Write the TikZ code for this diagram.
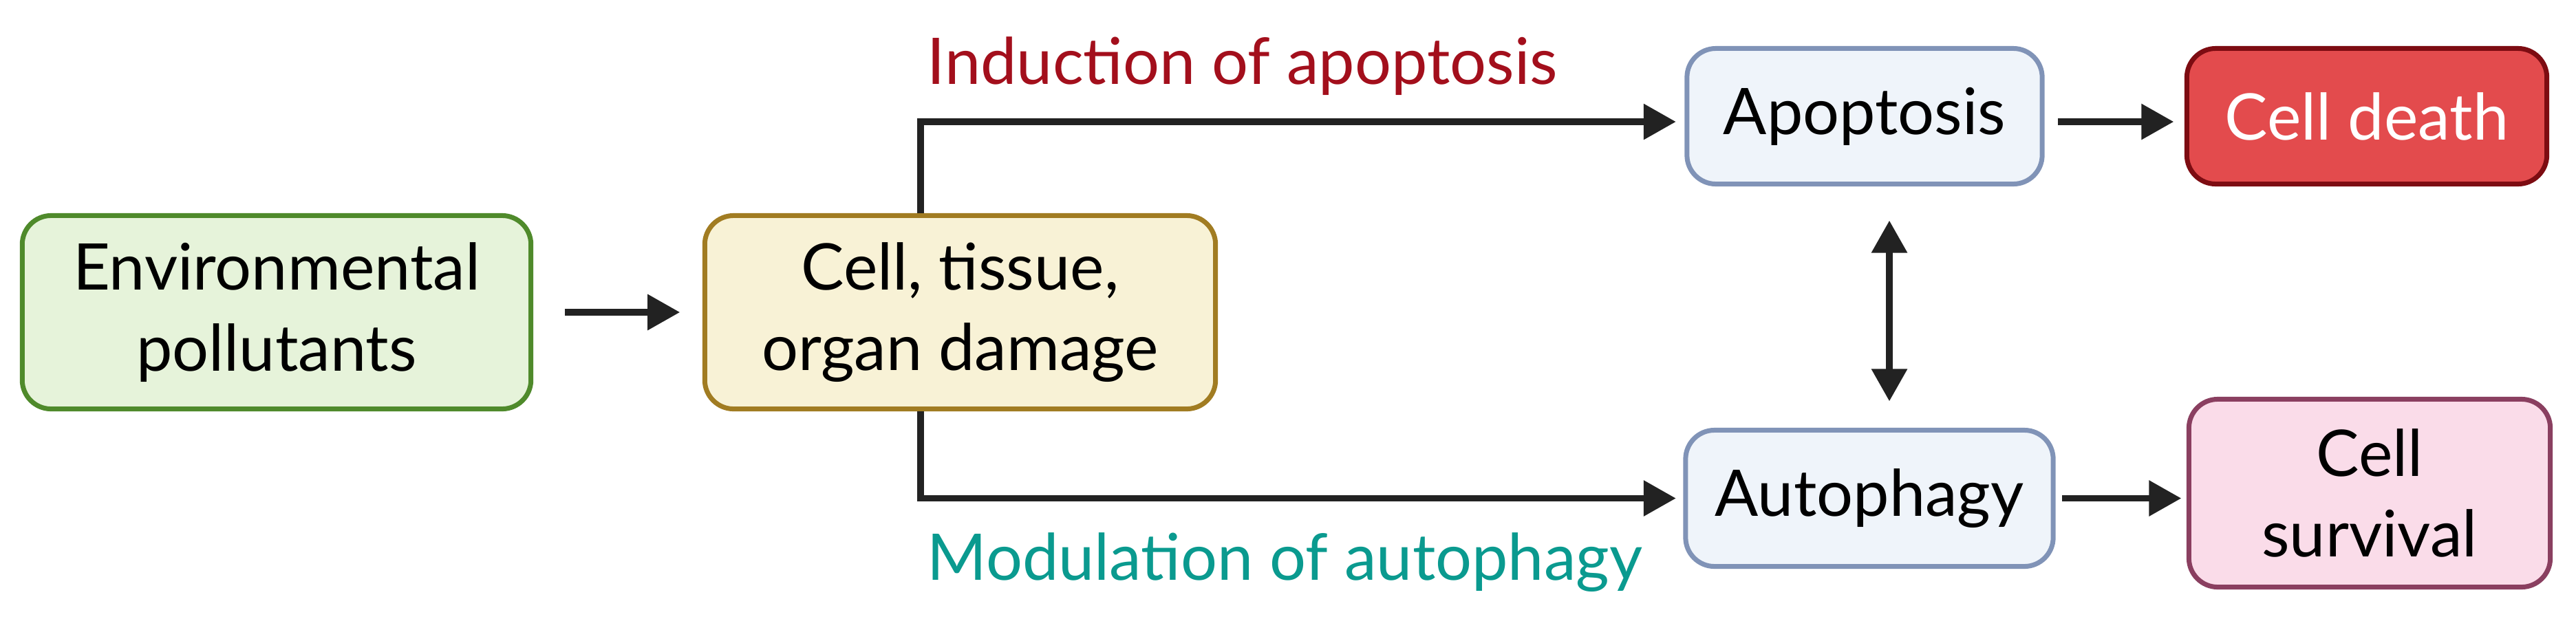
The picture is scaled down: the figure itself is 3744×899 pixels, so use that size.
\documentclass[tikz,border=0pt]{standalone}
\usepackage{fontspec}
\setmainfont{Lato}
\usetikzlibrary{arrows.meta,calc}
\definecolor{envfill}{HTML}{E6F3DA}
\definecolor{envdraw}{HTML}{4F8A2B}
\definecolor{cellfill}{HTML}{F8F2D6}
\definecolor{celldraw}{HTML}{A17C22}
\definecolor{procfill}{HTML}{EFF4FA}
\definecolor{procdraw}{HTML}{8093B7}
\definecolor{deathfill}{HTML}{E34B4D}
\definecolor{deathdraw}{HTML}{7D0C12}
\definecolor{survfill}{HTML}{FADCE9}
\definecolor{survdraw}{HTML}{8A3F60}
\definecolor{indcol}{HTML}{A30F1C}
\definecolor{modcol}{HTML}{0A9A8F}
\definecolor{arrcol}{HTML}{222222}
\begin{document}
\begin{tikzpicture}[x=0.01cm,y=-0.01cm,
  box/.style={rectangle, rounded corners=0.42cm, line width=0.07cm, align=center,
    inner sep=0pt, font=\fontsize{26.6}{33.4}\selectfont},
  arr/.style={draw=arrcol, line width=0.095cm, -{Triangle[length=0.47cm,width=0.5cm]}},
  arrtwo/.style={draw=arrcol, line width=0.095cm, {Triangle[length=0.47cm,width=0.5cm]}-{Triangle[length=0.47cm,width=0.5cm]}},
  lbl/.style={anchor=base west, inner sep=0pt, font=\fontsize{26.6}{33.4}\selectfont}]
\useasboundingbox (0,0) rectangle (3744,899);
\fill[white] (0,0) rectangle (3744,899);
\node[box, fill=envfill, draw=envdraw, minimum width=7.39cm, minimum height=2.81cm] (env) at (402,454) {Environmental\\pollutants};
\node[box, fill=cellfill, draw=celldraw, minimum width=7.42cm, minimum height=2.81cm] (cell) at (1395.5,454) {Cell, tissue,\\organ damage};
\node[box, fill=procfill, draw=procdraw, minimum width=5.16cm, minimum height=1.97cm] (apop) at (2710,169) {Apoptosis};
\node[box, fill=procfill, draw=procdraw, minimum width=5.34cm, minimum height=1.98cm] (auto) at (2717,724.5) {Autophagy};
\node[box, fill=deathfill, draw=deathdraw, minimum width=5.23cm, minimum height=1.97cm, text=white] (death) at (3440,169) {Cell death};
\node[box, fill=survfill, draw=survdraw, minimum width=5.25cm, minimum height=2.73cm] (surv) at (3444,717) {Cell\\survival};
\node[lbl, text=indcol] (ind) at (1347,122) {Induction of apoptosis};
\node[lbl, text=modcol] (mod) at (1347,843) {Modulation of autophagy};
\draw[arr, shorten <=0.455cm, shorten >=0.325cm] (env.east) -- (cell.west);
\draw[arr, shorten >=0.125cm] ([xshift=-0.575cm]cell.north) |- ([yshift=-0.08cm]apop.west);
\draw[arr, shorten >=0.105cm] ([xshift=-0.575cm]cell.south) |- (auto.west);
\draw[arr, shorten <=0.195cm, shorten >=0.155cm] ([yshift=-0.08cm]apop.east) -- ([yshift=-0.08cm]death.west);
\draw[arr, shorten <=0.095cm, shorten >=0.075cm] (auto.east) -- (auto.east -| surv.west);
\draw[arrtwo, shorten <=0.495cm, shorten >=0.385cm] ([xshift=0.36cm]apop.south) -- ([xshift=0.36cm]apop.south |- auto.north);
\end{tikzpicture}
\end{document}
